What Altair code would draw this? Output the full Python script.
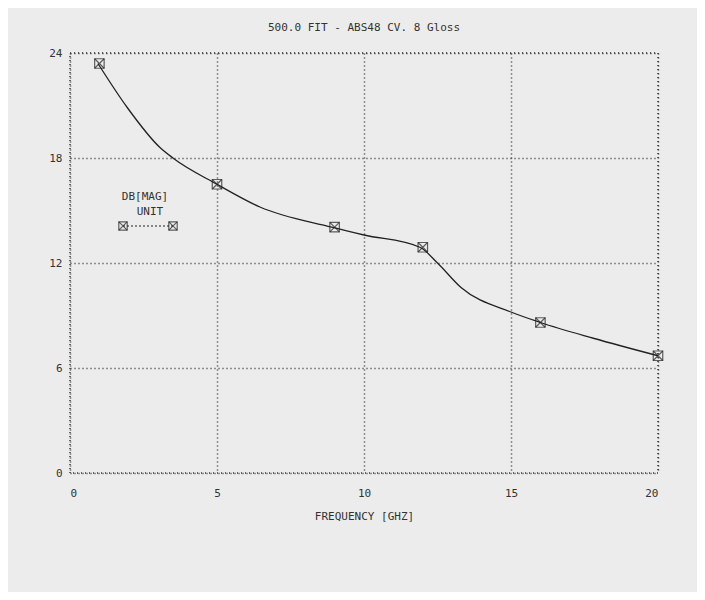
import altair as alt
import pandas as pd

# curve points
curve_x = [0.95, 1.94, 3.06, 3.5, 5.0, 6.46, 8.9, 10.0, 11.9, 12.5, 13.3, 15.0, 16.0, 17.8, 20.0]
curve_y = [23.4, 20.9, 18.6, 18.0, 16.5, 15.2, 14.05, 13.6, 12.9, 12.0, 10.6, 9.2, 8.6, 7.7, 6.7]

# measured markers
mark_x = [1, 5, 9, 12, 16, 20]
mark_y = [23.4, 16.5, 14.05, 12.9, 8.6, 6.7]

x_ticks = [0, 5, 10, 15, 20]
y_ticks = [0, 6, 12, 18, 24]

title_text = "500.0 FIT - ABS48 CV. 8 Gloss"
x_title = "FREQUENCY [GHZ]"
legend_lines = ["DB[MAG]", "UNIT"]

curve = pd.DataFrame({"x": curve_x, "y": curve_y})
marks = pd.DataFrame({"x": mark_x, "y": mark_y})

FONT = "DejaVu Sans Mono"
INK = "#333333"

xs = alt.Scale(domain=[0, 20], nice=False)
ys = alt.Scale(domain=[0, 24], nice=False)

base_x = alt.X("x:Q", scale=xs, axis=alt.Axis(
    values=x_ticks, title=x_title, grid=True, gridColor=INK, gridDash=[1, 3],
    gridWidth=1.5, domain=False, ticks=False, labelPadding=14, titlePadding=12,
    labelFont=FONT, titleFont=FONT, labelFontSize=11, titleFontSize=11,
    titleFontWeight="normal", labelColor=INK, titleColor=INK))
base_y = alt.Y("y:Q", scale=ys, axis=alt.Axis(
    values=y_ticks, title=None, grid=True, gridColor=INK, gridDash=[1, 3],
    gridWidth=1.5, domain=False, ticks=False, labelPadding=8,
    labelFont=FONT, labelFontSize=11, labelColor=INK))

line = alt.Chart(curve).mark_line(color="#222222", strokeWidth=1.3,
                                  interpolate="monotone").encode(x=base_x, y=base_y)

sq = alt.Chart(marks).mark_point(shape="square", filled=False, size=90,
                                 color="#222222", strokeWidth=1.2).encode(x="x:Q", y="y:Q")
xm = alt.Chart(marks).mark_point(shape="M-1,-1L1,1M-1,1L1,-1", filled=False, size=90,
                                 color="#222222", strokeWidth=1.2).encode(x="x:Q", y="y:Q")

leg_t1 = alt.Chart(pd.DataFrame({"t": [legend_lines[0]]})).mark_text(
    font=FONT, fontSize=11, color=INK).encode(x=alt.value(75), y=alt.value(144), text="t:N")
leg_t2 = alt.Chart(pd.DataFrame({"t": [legend_lines[1]]})).mark_text(
    font=FONT, fontSize=11, color=INK).encode(x=alt.value(80), y=alt.value(159), text="t:N")
leg_line = alt.Chart(pd.DataFrame({"a": [0]})).mark_rule(
    color="#222222", strokeDash=[2, 2], strokeWidth=1.2).encode(
    x=alt.value(53), x2=alt.value(103), y=alt.value(173))
leg_sq1 = alt.Chart(pd.DataFrame({"a": [0]})).mark_point(
    shape="square", filled=False, size=70, color="#222222", strokeWidth=1.2).encode(
    x=alt.value(53), y=alt.value(173))
leg_sq2 = alt.Chart(pd.DataFrame({"a": [0]})).mark_point(
    shape="square", filled=False, size=70, color="#222222", strokeWidth=1.2).encode(
    x=alt.value(103), y=alt.value(173))
leg_x1 = alt.Chart(pd.DataFrame({"a": [0]})).mark_point(
    shape="M-1,-1L1,1M-1,1L1,-1", filled=False, size=70, color="#222222", strokeWidth=1.2).encode(
    x=alt.value(53), y=alt.value(173))
leg_x2 = alt.Chart(pd.DataFrame({"a": [0]})).mark_point(
    shape="M-1,-1L1,1M-1,1L1,-1", filled=False, size=70, color="#222222", strokeWidth=1.2).encode(
    x=alt.value(103), y=alt.value(173))

chart = alt.layer(line, sq, xm, leg_t1, leg_t2, leg_line,
                  leg_sq1, leg_sq2, leg_x1, leg_x2).properties(
    width=588, height=420,
    title=alt.TitleParams(title_text, font=FONT, fontSize=11, fontWeight="normal",
                          color=INK, offset=14),
    autosize=alt.AutoSizeParams(type="none"),
    padding={"left": 62, "top": 45, "right": 39, "bottom": 119},
    background="#ececec",
).configure_view(stroke=INK, strokeDash=[1, 3], strokeWidth=1.5, fill="#ececec")

chart.save("out.html", embed_options={"renderer": "svg", "actions": False})
